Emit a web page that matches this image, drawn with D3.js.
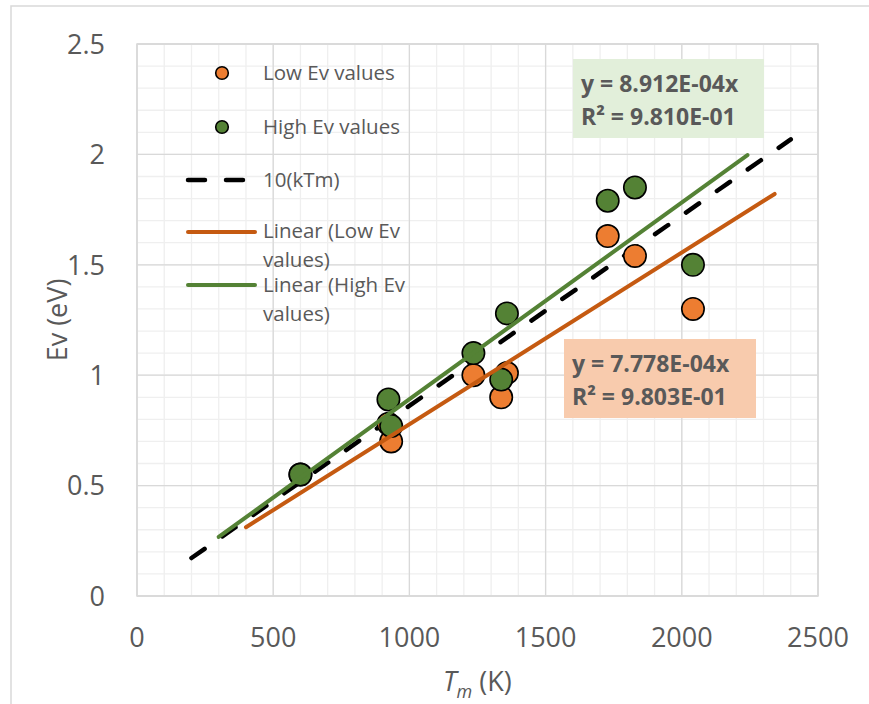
<!DOCTYPE html>
<html>
<head>
<meta charset="utf-8">
<script src="https://cdn.jsdelivr.net/npm/d3@7"></script>
<style>
  body { margin: 0; background: #fff; }
  svg { display: block; font-family: "Open Sans", "Noto Sans", sans-serif; }
</style>
</head>
<body>
<svg id="chart" width="869" height="704"></svg>
<script>
// melting temperature (K) of each metal
var tmK = [600, 923, 933, 1235, 1337, 1358, 1728, 1828, 2041];
// vacancy formation energies (eV)
var lowEv = [0.55, 0.78, 0.70, 1.00, 0.90, 1.01, 1.63, 1.54, 1.30];
var highEv = [0.55, 0.89, 0.77, 1.10, 0.98, 1.28, 1.79, 1.85, 1.50];

// 10(kTm) reference line end points
var kTmT = [200, 2400];
var kTmEv = [0.172, 2.068];

// linear trendlines through the origin
var trendNames = ["Linear (Low Ev values)", "Linear (High Ev values)"];
var trendSlopes = [7.778e-4, 8.912e-4];
var trendFrom = [400, 300];
var trendTo = [2341, 2241];
var trendR2 = ["9.803E-01", "9.810E-01"];

var xTicks = [0, 500, 1000, 1500, 2000, 2500];
var yTicks = [0, 0.5, 1, 1.5, 2, 2.5];

var orangeFill = "#ED7D31", orangeLine = "#C55A11";
var greenFill = "#548235", greenLine = "#548235";
var textCol = "#595959";

var svg = d3.select("#chart");

var x = d3.scaleLinear().domain([0, 2500]).range([137, 818]);
var y = d3.scaleLinear().domain([0, 2.5]).range([596, 44]);

// chart area border
svg.append("rect")
    .attr("x", 11).attr("y", 6)
    .attr("width", 900).attr("height", 750)
    .attr("fill", "#fff")
    .attr("stroke", "#d9d9d9")
    .attr("stroke-width", 1.5);

// minor grid
var grid = svg.append("g");
grid.selectAll(".mx")
    .data(x.ticks(25))
    .enter().append("line")
    .attr("x1", function (d) { return x(d); })
    .attr("x2", function (d) { return x(d); })
    .attr("y1", y(0)).attr("y2", y(2.5))
    .attr("stroke", "#efefef").attr("stroke-width", 1.3);
grid.selectAll(".my")
    .data(y.ticks(25))
    .enter().append("line")
    .attr("y1", function (d) { return y(d); })
    .attr("y2", function (d) { return y(d); })
    .attr("x1", x(0)).attr("x2", x(2500))
    .attr("stroke", "#efefef").attr("stroke-width", 1.3);

// major grid
grid.selectAll(".Mx")
    .data(xTicks)
    .enter().append("line")
    .attr("x1", function (d) { return x(d); })
    .attr("x2", function (d) { return x(d); })
    .attr("y1", y(0)).attr("y2", y(2.5))
    .attr("stroke", "#d9d9d9").attr("stroke-width", 1.3);
grid.selectAll(".My")
    .data(yTicks)
    .enter().append("line")
    .attr("y1", function (d) { return y(d); })
    .attr("y2", function (d) { return y(d); })
    .attr("x1", x(0)).attr("x2", x(2500))
    .attr("stroke", "#d9d9d9").attr("stroke-width", 1.3);

// plot area border
svg.append("rect")
    .attr("x", x(0)).attr("y", y(2.5))
    .attr("width", x(2500) - x(0)).attr("height", y(0) - y(2.5))
    .attr("fill", "none")
    .attr("stroke", "#d9d9d9").attr("stroke-width", 1.5);

// tick labels
svg.append("g").selectAll("text")
    .data(xTicks)
    .enter().append("text")
    .attr("x", function (d) { return x(d); })
    .attr("y", 647)
    .attr("text-anchor", "middle")
    .attr("font-size", 27)
    .attr("fill", textCol)
    .text(function (d) { return d; });

svg.append("g").selectAll("text")
    .data(yTicks)
    .enter().append("text")
    .attr("x", 105)
    .attr("y", function (d) { return y(d); })
    .attr("dy", "0.36em")
    .attr("text-anchor", "end")
    .attr("font-size", 27)
    .attr("fill", textCol)
    .text(function (d) { return d; });

// axis titles
svg.append("text")
    .attr("transform", "translate(67,320) rotate(-90)")
    .attr("text-anchor", "middle")
    .attr("font-size", 27)
    .attr("fill", textCol)
    .text("Ev (eV)");

var xt = svg.append("text")
    .attr("x", 443).attr("y", 691)
    .attr("font-size", 27)
    .attr("fill", textCol);
xt.append("tspan").attr("font-style", "italic").text("T");
xt.append("tspan").attr("font-style", "italic").attr("font-size", 18).attr("dy", 7).text("m");
xt.append("tspan").attr("dy", -7).text(" (K)");

// 10(kTm) dashed line
var line = d3.line()
    .x(function (d) { return x(d[0]); })
    .y(function (d) { return y(d[1]); });

svg.append("path")
    .datum(d3.zip(kTmT, kTmEv))
    .attr("d", line)
    .attr("fill", "none")
    .attr("stroke", "#000")
    .attr("stroke-width", 4.5)
    .attr("stroke-linecap", "round")
    .attr("stroke-dasharray", "16,21.7");

// markers
function drawPoints(vals, fill) {
    svg.append("g").selectAll("circle")
        .data(d3.zip(tmK, vals))
        .enter().append("circle")
        .attr("cx", function (d) { return x(d[0]); })
        .attr("cy", function (d) { return y(d[1]); })
        .attr("r", 11.2)
        .attr("fill", fill)
        .attr("stroke", "#000")
        .attr("stroke-width", 1.6);
}
drawPoints(lowEv, orangeFill);
drawPoints(highEv, greenFill);

// trendlines
var trendCols = [orangeLine, greenLine];
trendSlopes.forEach(function (s, i) {
    svg.append("path")
        .datum([[trendFrom[i], s * trendFrom[i]], [trendTo[i], s * trendTo[i]]])
        .attr("d", line)
        .attr("fill", "none")
        .attr("stroke", trendCols[i])
        .attr("stroke-width", 4)
        .attr("stroke-linecap", "round");
});

// trendline equation labels
var labelBoxes = [
    { x: 564, y: 339, w: 192, h: 79, fill: "#F8CBAD", tx: 572 },
    { x: 573, y: 59, w: 191, h: 79, fill: "#E2EFDA", tx: 581 }
];
trendSlopes.forEach(function (s, i) {
    var b = labelBoxes[i];
    var g = svg.append("g");
    g.append("rect")
        .attr("x", b.x).attr("y", b.y)
        .attr("width", b.w).attr("height", b.h)
        .attr("fill", b.fill);
    var mant = s.toExponential(3).split("e");
    var exp = +mant[1];
    var eq = "y = " + mant[0] + "E" + (exp < 0 ? "-" : "+") + d3.format("02")(Math.abs(exp)) + "x";
    g.append("text")
        .attr("x", b.tx).attr("y", b.y + 25)
        .attr("dy", "0.36em")
        .attr("font-size", 23).attr("font-weight", "bold")
        .attr("fill", textCol)
        .text(eq);
    g.append("text")
        .attr("x", b.tx).attr("y", b.y + 58)
        .attr("dy", "0.36em")
        .attr("font-size", 23).attr("font-weight", "bold")
        .attr("fill", textCol)
        .text("R\u00b2 = " + trendR2[i]);
});

// legend
var legend = svg.append("g").attr("font-size", 20.5).attr("fill", textCol);

function legendText(lines, cy) {
    lines.forEach(function (t, k) {
        legend.append("text")
            .attr("x", 263).attr("y", cy + k * 29)
            .attr("dy", "0.36em")
            .text(t);
    });
}

legend.append("circle").attr("cx", 222).attr("cy", 73).attr("r", 6.3)
    .attr("fill", orangeFill).attr("stroke", "#000").attr("stroke-width", 1.6);
legendText(["Low Ev values"], 73);

legend.append("circle").attr("cx", 222).attr("cy", 127).attr("r", 6.3)
    .attr("fill", greenFill).attr("stroke", "#000").attr("stroke-width", 1.6);
legendText(["High Ev values"], 127);

legend.append("line").attr("x1", 188).attr("x2", 243).attr("y1", 180).attr("y2", 180)
    .attr("stroke", "#000").attr("stroke-width", 4.5)
    .attr("stroke-linecap", "round").attr("stroke-dasharray", "17,21");
legendText(["10(kTm)"], 180);

legend.append("line").attr("x1", 188).attr("x2", 255).attr("y1", 232).attr("y2", 232)
    .attr("stroke", orangeLine).attr("stroke-width", 4).attr("stroke-linecap", "round");
legendText(["Linear (Low Ev", "values)"], 231);

legend.append("line").attr("x1", 188).attr("x2", 255).attr("y1", 285).attr("y2", 285)
    .attr("stroke", greenLine).attr("stroke-width", 4).attr("stroke-linecap", "round");
legendText(["Linear (High Ev", "values)"], 285);
</script>
</body>
</html>
